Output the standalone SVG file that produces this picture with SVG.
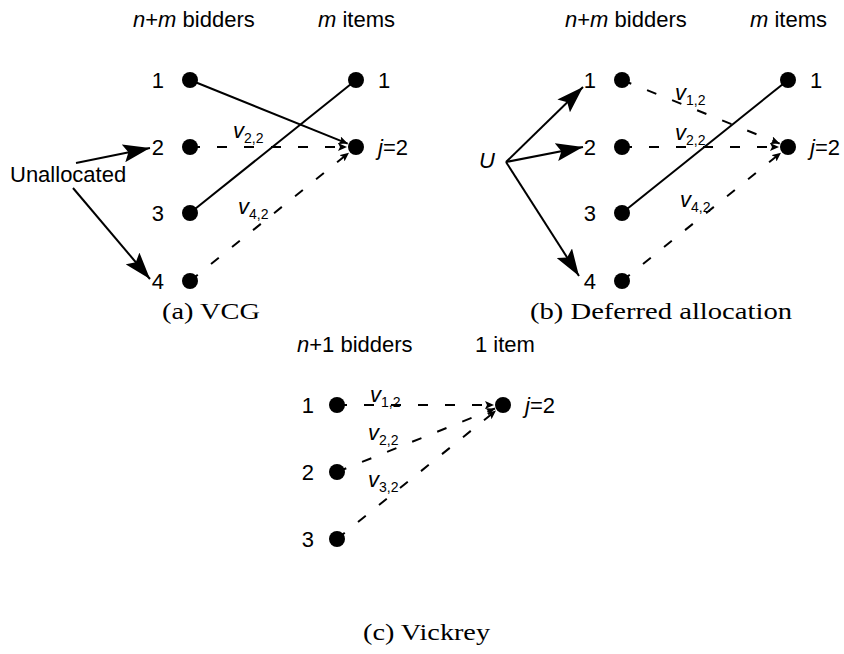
<svg xmlns="http://www.w3.org/2000/svg" width="844" height="654" viewBox="0 0 844 654">
  <style>
    .t { font-family: "Liberation Sans", Arial, sans-serif; font-size: 22px; fill: #000; }
    .i { font-style: italic; }
    .sub { font-size: 14px; }
    .cap { font-family: "Liberation Serif", "Times New Roman", serif; font-size: 24px; fill: #000; }
    .dot { fill: #000; }
    .solid { stroke: #000; stroke-width: 2; fill: none; }
    .dash { stroke: #000; stroke-width: 2; fill: none; stroke-dasharray: 10 17; }
  </style>
  <defs>
    <marker id="big" markerUnits="userSpaceOnUse" markerWidth="27" markerHeight="18" refX="27" refY="9" orient="auto">
      <path d="M0,0 L27,9 L0,18 L5,9 z" fill="#000"/>
    </marker>
    <marker id="small" markerUnits="userSpaceOnUse" markerWidth="9" markerHeight="8" refX="9" refY="4" orient="auto">
      <path d="M0,0 L9,4 L0,8 L2,4 z" fill="#000"/>
    </marker>
  </defs>
  <rect width="844" height="654" fill="#fff"/>

  <!-- ===== (a) VCG ===== -->
  <g id="a-headers">
    <text class="t" x="133" y="27"><tspan class="i">n</tspan>+<tspan class="i">m</tspan> bidders</text>
    <text class="t" x="318" y="27"><tspan class="i">m</tspan> items</text>
  </g>
  <g id="a-connectors">
    <line class="solid" x1="190" y1="80" x2="347.7" y2="143.6" marker-end="url(#small)"/>
    <line class="solid" x1="190" y1="213" x2="356" y2="80"/>
    <line class="dash" x1="190" y1="147" x2="347" y2="147" marker-end="url(#small)"/>
    <line class="dash" x1="190" y1="281" x2="349" y2="152.7" marker-end="url(#small)"/>
    <line class="solid" x1="76" y1="163" x2="150" y2="148" marker-end="url(#big)"/>
    <line class="solid" x1="73" y1="188" x2="150" y2="279" marker-end="url(#big)"/>
  </g>
  <g id="a-bidder1"><circle class="dot" cx="190" cy="80" r="8"/><text class="t" x="164" y="88" text-anchor="end">1</text></g>
  <g id="a-bidder2"><circle class="dot" cx="190" cy="147" r="8"/><text class="t" x="164" y="155" text-anchor="end">2</text></g>
  <g id="a-bidder3"><circle class="dot" cx="190" cy="213" r="8"/><text class="t" x="164" y="221" text-anchor="end">3</text></g>
  <g id="a-bidder4"><circle class="dot" cx="190" cy="281" r="8"/><text class="t" x="164" y="289" text-anchor="end">4</text></g>
  <g id="a-item1"><circle class="dot" cx="356" cy="80" r="8"/><text class="t" x="378" y="88">1</text></g>
  <g id="a-item2"><circle class="dot" cx="356" cy="147" r="8"/><text class="t" x="378" y="155"><tspan class="i">j</tspan>=2</text></g>
  <g id="a-unallocated"><text class="t" x="10" y="182">Unallocated</text></g>
  <g id="a-labels">
    <text class="t i" x="233" y="138">v<tspan class="sub" dy="5" font-style="normal">2,2</tspan></text>
    <text class="t i" x="238" y="214">v<tspan class="sub" dy="5" font-style="normal">4,2</tspan></text>
  </g>
  <text class="cap" x="162" y="319" textLength="98" lengthAdjust="spacingAndGlyphs">(a) VCG</text>

  <!-- ===== (b) Deferred allocation ===== -->
  <g id="b-headers">
    <text class="t" x="565" y="27"><tspan class="i">n</tspan>+<tspan class="i">m</tspan> bidders</text>
    <text class="t" x="750" y="27"><tspan class="i">m</tspan> items</text>
  </g>
  <g id="b-connectors">
    <line class="dash" x1="622" y1="80" x2="779.7" y2="143.6" marker-end="url(#small)"/>
    <line class="solid" x1="622" y1="213" x2="788" y2="80"/>
    <line class="dash" x1="622" y1="147" x2="779" y2="147" marker-end="url(#small)"/>
    <line class="dash" x1="622" y1="281" x2="781" y2="152.7" marker-end="url(#small)"/>
    <line class="solid" x1="506" y1="162" x2="583" y2="87" marker-end="url(#big)"/>
    <line class="solid" x1="506" y1="162" x2="583" y2="147" marker-end="url(#big)"/>
    <line class="solid" x1="506" y1="162" x2="579" y2="276" marker-end="url(#big)"/>
  </g>
  <g id="b-bidder1"><circle class="dot" cx="622" cy="80" r="8"/><text class="t" x="596" y="88" text-anchor="end">1</text></g>
  <g id="b-bidder2"><circle class="dot" cx="622" cy="147" r="8"/><text class="t" x="596" y="155" text-anchor="end">2</text></g>
  <g id="b-bidder3"><circle class="dot" cx="622" cy="213" r="8"/><text class="t" x="596" y="221" text-anchor="end">3</text></g>
  <g id="b-bidder4"><circle class="dot" cx="622" cy="281" r="8"/><text class="t" x="596" y="289" text-anchor="end">4</text></g>
  <g id="b-item1"><circle class="dot" cx="788" cy="80" r="8"/><text class="t" x="810" y="88">1</text></g>
  <g id="b-item2"><circle class="dot" cx="788" cy="147" r="8"/><text class="t" x="810" y="155"><tspan class="i">j</tspan>=2</text></g>
  <g id="b-U"><text class="t i" x="479" y="168">U</text></g>
  <g id="b-labels">
    <text class="t i" x="675" y="100">v<tspan class="sub" dy="5" font-style="normal">1,2</tspan></text>
    <text class="t i" x="675" y="140">v<tspan class="sub" dy="5" font-style="normal">2,2</tspan></text>
    <text class="t i" x="680" y="207">v<tspan class="sub" dy="5" font-style="normal">4,2</tspan></text>
  </g>
  <text class="cap" x="530" y="319" textLength="262" lengthAdjust="spacingAndGlyphs">(b) Deferred allocation</text>

  <!-- ===== (c) Vickrey ===== -->
  <g id="c-headers">
    <text class="t" x="297" y="352"><tspan class="i">n</tspan>+1 bidders</text>
    <text class="t" x="475" y="352">1 item</text>
  </g>
  <g id="c-connectors">
    <line class="dash" x1="337" y1="405" x2="494" y2="405" marker-end="url(#small)"/>
    <line class="dash" x1="337" y1="472" x2="495" y2="408.5" marker-end="url(#small)"/>
    <line class="dash" x1="337" y1="539" x2="496" y2="410.5" marker-end="url(#small)"/>
  </g>
  <g id="c-bidder1"><circle class="dot" cx="337" cy="405" r="8"/><text class="t" x="314" y="413" text-anchor="end">1</text></g>
  <g id="c-bidder2"><circle class="dot" cx="337" cy="472" r="8"/><text class="t" x="314" y="480" text-anchor="end">2</text></g>
  <g id="c-bidder3"><circle class="dot" cx="337" cy="539" r="8"/><text class="t" x="314" y="547" text-anchor="end">3</text></g>
  <g id="c-item"><circle class="dot" cx="503" cy="405" r="8"/><text class="t" x="525" y="413"><tspan class="i">j</tspan>=2</text></g>
  <g id="c-labels">
    <text class="t i" x="370" y="402">v<tspan class="sub" dy="5" font-style="normal">1,2</tspan></text>
    <text class="t i" x="368" y="440">v<tspan class="sub" dy="5" font-style="normal">2,2</tspan></text>
    <text class="t i" x="368" y="487">v<tspan class="sub" dy="5" font-style="normal">3,2</tspan></text>
  </g>
  <text class="cap" x="363" y="640" textLength="127" lengthAdjust="spacingAndGlyphs">(c) Vickrey</text>
</svg>
